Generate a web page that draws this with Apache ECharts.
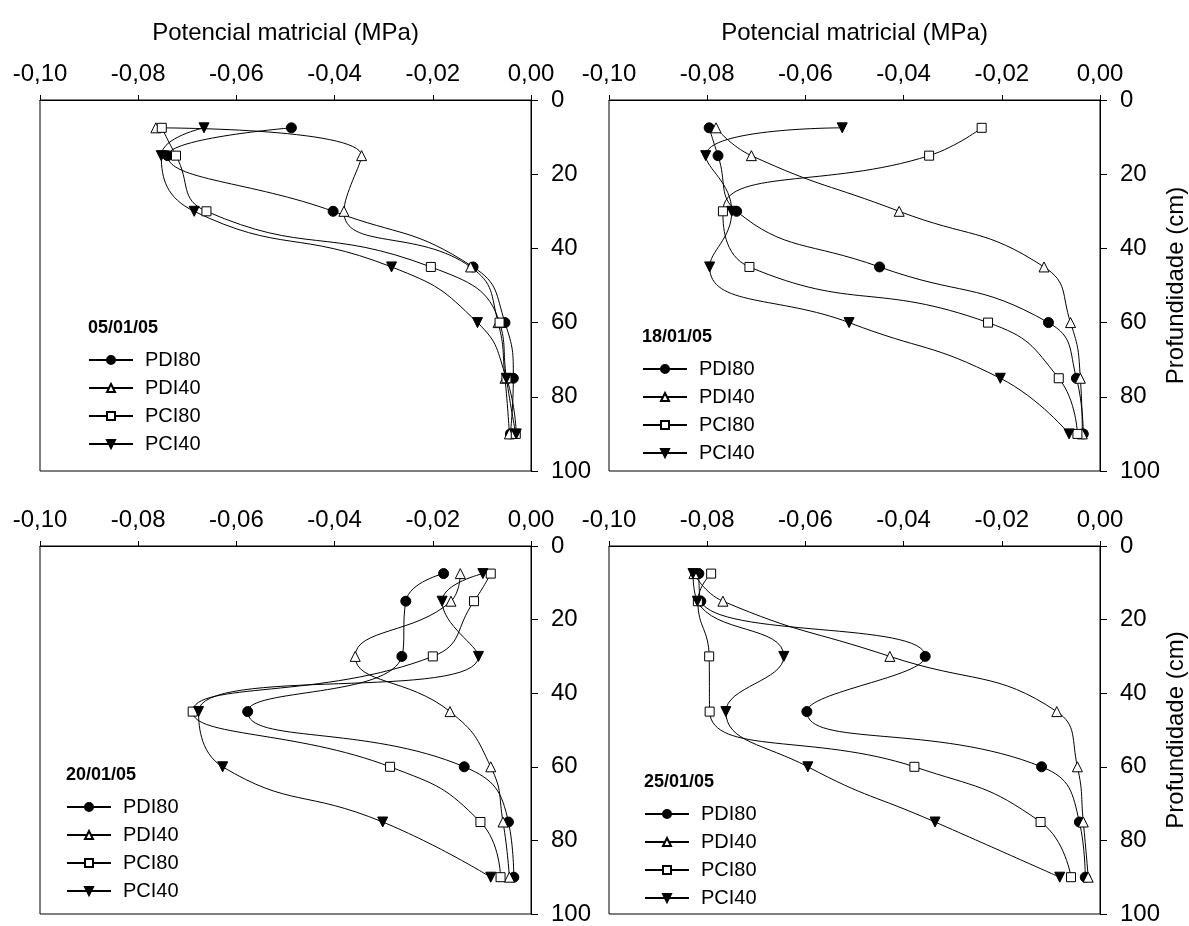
<!DOCTYPE html>
<html>
<head>
<meta charset="utf-8">
<script src="https://cdn.jsdelivr.net/npm/echarts@6/dist/echarts.min.js"></script>
<style>
  html, body { margin: 0; padding: 0; background: #fff; }
  #chart { width: 1189px; height: 926px; }
</style>
</head>
<body>
<div id="chart"></div>
<script>
// profundidades (cm)
const depths = [7.5, 15, 30, 45, 60, 75, 90]
const seriesNames = ['PDI80', 'PDI40', 'PCI80', 'PCI40']
const dates = ['05/01/05', '18/01/05', '20/01/05', '25/01/05']
const xTicks = [-0.1, -0.08, -0.06, -0.04, -0.02, 0]
const yTicks = [0, 20, 40, 60, 80, 100]

// potencial matricial (MPa) - 05/01/05
const pdi80_0501 = [-0.0488, -0.074, -0.0403, -0.0118, -0.0053, -0.0036, -0.0042]
const pdi40_0501 = [-0.0764, -0.0345, -0.0381, -0.0123, -0.0067, -0.0053, -0.0044]
const pci80_0501 = [-0.0752, -0.0723, -0.0661, -0.0204, -0.0064, -0.005, -0.0031]
const pci40_0501 = [-0.0666, -0.0753, -0.0686, -0.0284, -0.0109, -0.005, -0.003]

// 18/01/05
const pdi80_1801 = [-0.0796, -0.0778, -0.074, -0.0449, -0.0105, -0.0048, -0.0034]
const pdi40_1801 = [-0.0782, -0.071, -0.0409, -0.0114, -0.006, -0.004, -0.0036]
const pci80_1801 = [-0.0241, -0.0348, -0.0768, -0.0714, -0.0228, -0.0084, -0.0046]
const pci40_1801 = [-0.0525, -0.0803, -0.075, -0.0795, -0.0511, -0.0203, -0.0063]

// 20/01/05
const pdi80_2001 = [-0.0178, -0.0255, -0.0263, -0.0577, -0.0136, -0.0046, -0.0035]
const pdi40_2001 = [-0.0144, -0.0163, -0.0358, -0.0165, -0.0082, -0.0057, -0.0044]
const pci80_2001 = [-0.0082, -0.0116, -0.02, -0.0689, -0.0287, -0.0103, -0.0062]
const pci40_2001 = [-0.0098, -0.0181, -0.0107, -0.0677, -0.0628, -0.0302, -0.0082]

// 25/01/05
const pdi80_2501 = [-0.0817, -0.0813, -0.0356, -0.0597, -0.0119, -0.0042, -0.003]
const pdi40_2501 = [-0.0827, -0.0768, -0.0428, -0.0088, -0.0046, -0.0034, -0.0024]
const pci80_2501 = [-0.0792, -0.0819, -0.0796, -0.0795, -0.0378, -0.0121, -0.0059]
const pci40_2501 = [-0.0829, -0.082, -0.0644, -0.0762, -0.0595, -0.0336, -0.0082]

const panelValues = [
  [pdi80_0501, pdi40_0501, pci80_0501, pci40_0501],
  [pdi80_1801, pdi40_1801, pci80_1801, pci40_1801],
  [pdi80_2001, pdi40_2001, pci80_2001, pci40_2001],
  [pdi80_2501, pdi40_2501, pci80_2501, pci40_2501]
]

const font = '"Liberation Sans", Arial, sans-serif'
const fmt = v => v.toFixed(2).replace('.', ',')

// layout das 4 caixas
const panels = [
  { left: 40, top: 100, legendLeft: 88, legendTop: 319 },
  { left: 609, top: 100, legendLeft: 642, legendTop: 328 },
  { left: 40, top: 546, legendLeft: 66, legendTop: 766 },
  { left: 609, top: 546, legendLeft: 644, legendTop: 773 }
]

const markers = [
  { symbol: 'circle', size: 10, fill: '#000' },
  { symbol: 'triangle', size: 10, fill: '#fff' },
  { symbol: 'rect', size: 9, fill: '#fff' },
  { symbol: 'path://M0,0 L10,0 L5,10 Z', size: 10, fill: '#000' }
]

const grid = [], xAxis = [], yAxis = [], series = [], legend = [], title = []

panels.forEach((p, i) => {
  grid.push({
    left: p.left, top: p.top, width: 491, height: 371,
    show: true, borderColor: '#000', borderWidth: 1, backgroundColor: 'transparent'
  })

  xAxis.push({
    gridIndex: i,
    type: 'value',
    position: 'top',
    min: xTicks[0],
    max: xTicks[xTicks.length - 1],
    interval: 0.02,
    name: i < 2 ? 'Potencial matricial (MPa)' : '',
    nameLocation: 'middle',
    nameGap: 55,
    nameTextStyle: { fontSize: 24, color: '#000', fontFamily: font },
    axisLine: { show: true, lineStyle: { color: '#000', width: 1 } },
    axisTick: { show: true, inside: false, length: 5, lineStyle: { color: '#000' } },
    axisLabel: { fontSize: 24, color: '#000', fontFamily: font, margin: 14, formatter: fmt },
    splitLine: { show: false }
  })

  yAxis.push({
    gridIndex: i,
    type: 'value',
    position: 'right',
    inverse: true,
    min: yTicks[0],
    max: yTicks[yTicks.length - 1],
    interval: 20,
    name: i % 2 === 1 ? 'Profundidade (cm)' : '',
    nameLocation: 'middle',
    nameGap: 63,
    nameRotate: 90,
    nameTextStyle: { fontSize: 24, color: '#000', fontFamily: font },
    axisLine: { show: true, lineStyle: { color: '#000', width: 1 } },
    axisTick: { show: true, inside: false, length: 7, lineStyle: { color: '#000' } },
    axisLabel: { fontSize: 24, color: '#000', fontFamily: font, margin: 20 },
    splitLine: { show: false }
  })

  panelValues[i].forEach((vals, k) => {
    const m = markers[k]
    series.push({
      name: seriesNames[k],
      type: 'line',
      xAxisIndex: i,
      yAxisIndex: i,
      data: vals.map((v, j) => [v, depths[j]]),
      smooth: 0.5,
      symbol: m.symbol,
      symbolSize: m.size,
      showAllSymbol: true,
      lineStyle: { color: '#000', width: 1 },
      itemStyle: { color: m.fill, borderColor: '#000', borderWidth: 1 },
      emphasis: { disabled: true },
      animation: false
    })
  })

  title.push({
    text: dates[i],
    left: p.legendLeft,
    top: p.legendTop,
    padding: 0,
    textStyle: { fontSize: 18, fontWeight: 'bold', color: '#000', fontFamily: font }
  })

  legend.push({
    orient: 'vertical',
    left: p.legendLeft,
    top: p.legendTop + 31,
    padding: 0,
    itemWidth: 44,
    itemHeight: 10,
    itemGap: 8,
    data: seriesNames,
    selectedMode: false,
    textStyle: { fontSize: 20, color: '#000', fontFamily: font, padding: [0, 0, 0, 7], lineHeight: 20 }
  })
})

const myChart = echarts.init(document.getElementById('chart'), null, { renderer: 'canvas' })
myChart.setOption({
  backgroundColor: '#fff',
  animation: false,
  title,
  legend,
  grid,
  xAxis,
  yAxis,
  series
})
</script>
</body>
</html>
